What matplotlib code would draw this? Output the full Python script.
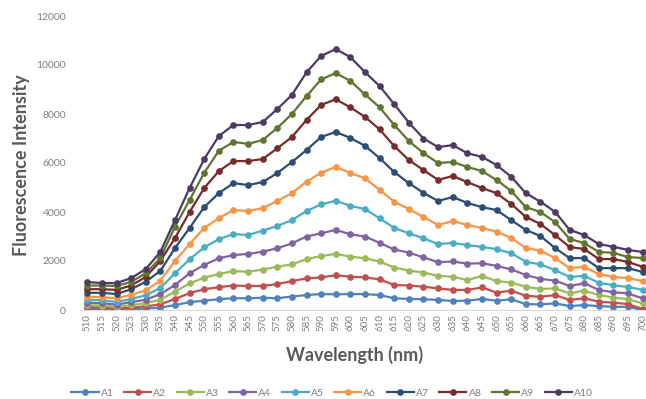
import numpy as np
import matplotlib.pyplot as plt

wavelengths = list(range(510, 705, 5))

a1 = [50, 30, 0, 30, 60, 100, 200, 320, 380, 440, 480, 480, 500, 480, 550, 610, 650, 640, 650,
      650, 610, 480, 450, 440, 410, 370, 380, 450, 380, 440, 240, 230, 270, 160, 200, 160, 130, 130, 0]
a2 = [120, 100, 50, 100, 150, 230, 450, 690, 850, 930, 1000, 980, 980, 1060, 1180, 1290, 1330, 1420, 1360,
      1330, 1250, 1020, 1000, 950, 880, 820, 820, 920, 710, 790, 580, 540, 610, 410, 480, 340, 300, 240, 40]
a3 = [200, 180, 120, 200, 280, 420, 750, 1090, 1320, 1470, 1590, 1560, 1650, 1770, 1860, 2080, 2200, 2290, 2180,
      2110, 1980, 1730, 1610, 1530, 1390, 1360, 1220, 1390, 1180, 1120, 950, 860, 880, 680, 790, 610, 510, 440, 270]
a4 = [300, 280, 220, 320, 420, 650, 1020, 1500, 1840, 2110, 2240, 2290, 2380, 2520, 2720, 3000, 3130, 3270, 3090,
      3000, 2740, 2470, 2340, 2150, 1950, 1980, 1890, 1910, 1800, 1660, 1430, 1270, 1200, 980, 1090, 820, 720, 680, 470]
a5 = [420, 400, 330, 450, 600, 900, 1500, 2070, 2560, 2890, 3100, 3060, 3240, 3430, 3670, 4040, 4310, 4460, 4250,
      4120, 3740, 3350, 3130, 2930, 2690, 2740, 2650, 2580, 2480, 2320, 1970, 1860, 1630, 1350, 1390, 1110, 1010, 940, 820]
a6 = [550, 520, 480, 620, 800, 1200, 2000, 2690, 3350, 3750, 4080, 4040, 4160, 4450, 4770, 5240, 5600, 5840, 5590,
      5380, 4900, 4420, 4120, 3800, 3470, 3630, 3470, 3350, 3200, 2940, 2530, 2420, 2120, 1710, 1760, 1460, 1350, 1300, 1180]
a7 = [700, 700, 650, 850, 1150, 1600, 2530, 3350, 4200, 4770, 5180, 5100, 5220, 5590, 6040, 6530, 7060, 7270, 7020,
      6700, 6200, 5630, 5180, 4780, 4450, 4610, 4370, 4200, 4080, 3670, 3270, 3020, 2530, 2120, 2120, 1710, 1710, 1710, 1550]
a8 = [850, 850, 820, 1000, 1350, 2000, 2940, 4000, 4980, 5670, 6080, 6080, 6160, 6600, 7060, 7760, 8370, 8600, 8270,
      7880, 7370, 6690, 6120, 5710, 5310, 5470, 5220, 4980, 4770, 4330, 3800, 3510, 3060, 2570, 2490, 2080, 2080, 1960, 1760]
a9 = [1000, 1000, 980, 1150, 1500, 2120, 3400, 4490, 5600, 6500, 6860, 6780, 6940, 7430, 8000, 8730, 9410, 9670, 9350,
      8800, 8270, 7550, 6900, 6400, 6000, 6040, 5840, 5670, 5310, 4860, 4200, 4000, 3590, 2900, 2730, 2370, 2330, 2160, 2120]
a10 = [1140, 1100, 1100, 1300, 1670, 2370, 3670, 4980, 6160, 7100, 7550, 7550, 7670, 8200, 8780, 9700, 10370, 10650, 10320,
       9710, 9140, 8400, 7650, 7000, 6650, 6730, 6400, 6250, 5920, 5440, 4770, 4420, 4010, 3270, 3060, 2690, 2580, 2450, 2370]

names = ['A1', 'A2', 'A3', 'A4', 'A5', 'A6', 'A7', 'A8', 'A9', 'A10']
series = [a1, a2, a3, a4, a5, a6, a7, a8, a9, a10]
colors = ['#4F81BD', '#C0504D', '#9BBB59', '#8064A2', '#4BACC6',
          '#F79646', '#2C4D75', '#772C2A', '#5F7530', '#4D3B62']

plt.rcParams['font.family'] = ['Lato', 'DejaVu Sans']

fig = plt.figure(figsize=(6.46, 3.99), dpi=100)
ax = fig.add_axes([80 / 646, 1 - 310 / 399, 570 / 646, 294 / 399])

xs = np.arange(len(wavelengths))
for name, vals, c in zip(names, series, colors):
    ax.plot(xs, vals, color=c, lw=1.6, marker='o', ms=3.8, label=name)

ax.set_xlim(-0.5, len(wavelengths) - 0.5)
ax.set_ylim(0, 12000)
ax.set_yticks(range(0, 12001, 2000))
ax.set_xticks(xs)
ax.set_xticklabels([str(w) for w in wavelengths], rotation=90, fontsize=7, color='#7f7f7f')
ax.tick_params(axis='y', labelsize=7.5, labelcolor='#7f7f7f', length=0, pad=10)
ax.tick_params(axis='x', length=0, pad=3)

for s in ['top', 'right', 'left']:
    ax.spines[s].set_visible(False)
ax.spines['bottom'].set_color('#d9d9d9')

fig.text(22 / 646, 1 - 165 / 399, 'Fluorescence Intensity', rotation=90, ha='center', va='center',
         fontsize=13, fontweight='bold', color='#595959')
fig.text(355 / 646, 1 - 355 / 399, 'Wavelength (nm)', ha='center', va='center',
         fontsize=13, fontweight='bold', color='#595959')

leg = fig.legend(loc='center', bbox_to_anchor=(332 / 646, 1 - 393 / 399), ncol=10, frameon=False,
                 fontsize=7.5, handlelength=2.6, columnspacing=1.0, handletextpad=0.2)
for t in leg.get_texts():
    t.set_color('#7f7f7f')

fig.savefig('out.png', dpi=100)
